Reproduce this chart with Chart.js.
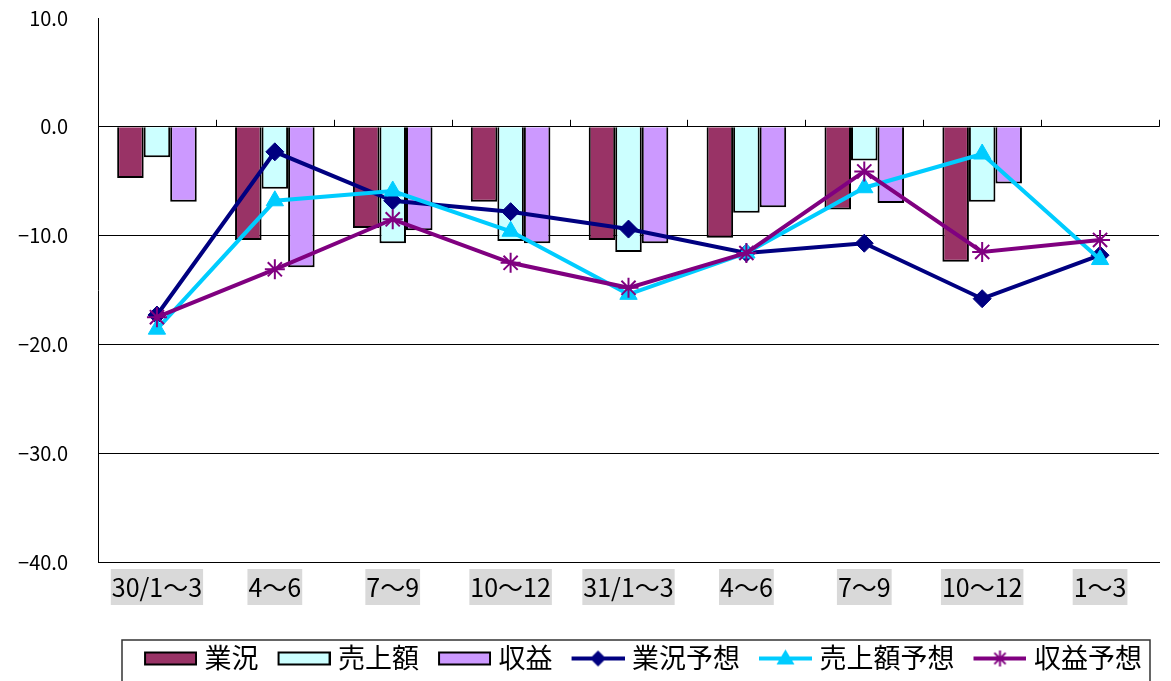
<!DOCTYPE html>
<html>
<head>
<meta charset="utf-8">
<script src="https://cdn.jsdelivr.net/npm/chart.js@4/dist/chart.umd.min.js"></script>
<style>
  html, body { margin: 0; padding: 0; background: #fff; }
  #wrap { width: 1171px; height: 681px; }
</style>
</head>
<body>
<div id="wrap"><canvas id="chart" width="1171" height="681"></canvas></div>
<script>
const categories = ['30/1～3', '4～6', '7～9', '10～12', '31/1～3', '4～6', '7～9', '10～12', '1～3'];

const gyokyo      = [-4.7, -10.4, -9.3, -6.9, -10.4, -10.2, -7.6, -12.4, null];
const uriage      = [-2.8, -5.7, -10.7, -10.5, -11.5, -7.9, -3.1, -6.9, null];
const shueki      = [-6.9, -12.9, -9.5, -10.7, -10.7, -7.4, -7.0, -5.2, null];
const gyokyoYoso  = [-17.3, -2.3, -6.8, -7.8, -9.4, -11.6, -10.7, -15.8, -11.8];
const uriageYoso  = [-18.6, -6.8, -5.9, -9.6, -15.4, -11.6, -5.6, -2.5, -12.2];
const shuekiYoso  = [-17.5, -13.1, -8.5, -12.5, -14.8, -11.6, -4.1, -11.5, -10.4];

const yTicks = [10, 0, -10, -20, -30, -40];

const FONT = '"Noto Sans CJK JP", "Noto Sans", sans-serif';
const BOX_W = 56;
const LEGEND_SHIFT = 10;

// legend swatches drawn as small images; the swatch sits at the right end
function swatch(kind, color, style) {
  const c = document.createElement('canvas');
  c.width = BOX_W + 12; c.height = 22;
  const g = c.getContext('2d');
  const r = c.width;          // right edge of the swatch
  const l = r - 53;           // left edge
  const m = (l + r) / 2;
  if (kind === 'bar') {
    g.fillStyle = '#000';
    g.fillRect(l, 5, 53, 14);
    g.fillStyle = color;
    g.fillRect(l + 2, 7, 49, 10);
  } else {
    g.strokeStyle = color;
    g.lineWidth = 4;
    g.beginPath(); g.moveTo(l, 12); g.lineTo(r, 12); g.stroke();
    g.fillStyle = color;
    g.beginPath();
    if (style === 'diamond') {
      g.moveTo(m, 4); g.lineTo(m + 8, 12); g.lineTo(m, 20); g.lineTo(m - 8, 12);
      g.closePath(); g.fill();
    } else if (style === 'triangle') {
      g.moveTo(m, 3); g.lineTo(m + 9, 18); g.lineTo(m - 9, 18);
      g.closePath(); g.fill();
    } else {
      g.lineWidth = 2;
      for (let a = 0; a < 4; a++) {
        const t = a * Math.PI / 4;
        g.moveTo(m - 8 * Math.cos(t), 12 - 8 * Math.sin(t));
        g.lineTo(m + 8 * Math.cos(t), 12 + 8 * Math.sin(t));
      }
      g.stroke();
    }
  }
  return c;
}

// nudge the legend a little right and frame it
const legendBorder = {
  id: 'legendBorder',
  afterLayout(chart) {
    const lg = chart.legend;
    lg.left += LEGEND_SHIFT;
    lg.right += LEGEND_SHIFT;
    (lg.legendHitBoxes || []).forEach(b => { b.left += LEGEND_SHIFT; });
  },
  afterDraw(chart) {
    const boxes = chart.legend.legendHitBoxes;
    if (!boxes || !boxes.length) return;
    const left = Math.min(...boxes.map(b => b.left)) - 13;
    const right = Math.max(...boxes.map(b => b.left + b.width)) + 8;
    const top = chart.legend.top + 6;
    const ctx = chart.ctx;
    ctx.save();
    ctx.strokeStyle = '#333';
    ctx.lineWidth = 1.5;
    ctx.strokeRect(left, top, right - left, chart.height - top + 5);
    ctx.restore();
  }
};

// small category tick marks on the zero line
const zeroTicks = {
  id: 'zeroTicks',
  afterDatasetsDraw(chart) {
    const x = chart.scales.x, y = chart.scales.y;
    const y0 = y.getPixelForValue(0);
    const w = (x.right - x.left) / categories.length;
    const ctx = chart.ctx;
    ctx.save();
    ctx.strokeStyle = '#000';
    ctx.lineWidth = 1;
    ctx.beginPath();
    for (let i = 1; i <= categories.length; i++) {
      const px = Math.round(x.left + i * w) + 0.5;
      ctx.moveTo(px, y0 - 7);
      ctx.lineTo(px, y0);
    }
    ctx.stroke();
    ctx.restore();
  }
};

function noPad(scale) {
  scale.paddingLeft = 0;
  scale.paddingRight = 0;
  scale.paddingTop = 0;
  scale.paddingBottom = 0;
}

const ctx = document.getElementById('chart').getContext('2d');

new Chart(ctx, {
  data: {
    labels: categories,
    datasets: [
      { type: 'bar', label: '業況', data: gyokyo, backgroundColor: '#993366', borderColor: '#000', borderWidth: 2, order: 3,
        swatchImg: swatch('bar', '#993366') },
      { type: 'bar', label: '売上額', data: uriage, backgroundColor: '#CCFFFF', borderColor: '#000', borderWidth: 2, order: 3,
        swatchImg: swatch('bar', '#CCFFFF') },
      { type: 'bar', label: '収益', data: shueki, backgroundColor: '#CC99FF', borderColor: '#000', borderWidth: 2, order: 3,
        swatchImg: swatch('bar', '#CC99FF') },
      { type: 'line', label: '業況予想', data: gyokyoYoso, borderColor: '#000080', backgroundColor: '#000080', borderWidth: 4,
        pointStyle: 'rectRot', pointRadius: 9, pointBorderWidth: 1, tension: 0, order: 2,
        swatchImg: swatch('line', '#000080', 'diamond') },
      { type: 'line', label: '売上額予想', data: uriageYoso, borderColor: '#00CCFF', backgroundColor: '#00CCFF', borderWidth: 4,
        pointStyle: 'triangle', pointRadius: 10, pointBorderWidth: 1, tension: 0, order: 1,
        swatchImg: swatch('line', '#00CCFF', 'triangle') },
      { type: 'line', label: '収益予想', data: shuekiYoso, borderColor: '#800080', backgroundColor: '#800080', borderWidth: 4,
        pointStyle: 'star', pointRadius: 10, pointBorderWidth: 2, tension: 0, order: 0,
        swatchImg: swatch('line', '#800080', 'star') }
    ]
  },
  options: {
    responsive: false,
    animation: false,
    layout: { padding: { top: 18, right: 5, left: 0, bottom: 0 } },
    datasets: { bar: { categoryPercentage: 0.675, barPercentage: 1.0 } },
    plugins: {
      tooltip: { enabled: false },
      legend: {
        position: 'bottom',
        fullSize: false,
        labels: {
          font: { family: FONT, size: 27 },
          color: '#000',
          padding: 10,
          usePointStyle: true,
          pointStyleWidth: BOX_W,
          sort: (a, b) => a.datasetIndex - b.datasetIndex,
          generateLabels(chart) {
            return chart.data.datasets.map((ds, i) => ({
              text: ds.label,
              pointStyle: ds.swatchImg,
              fillStyle: 'transparent',
              strokeStyle: 'transparent',
              lineWidth: 0,
              fontColor: '#000',
              hidden: false,
              datasetIndex: i
            }));
          }
        }
      }
    },
    scales: {
      x: {
        afterFit(scale) { scale.height = 72; noPad(scale); },
        grid: { display: false, drawTicks: false },
        border: { display: true, color: '#000', width: 1 },
        ticks: {
          font: { family: FONT, size: 25 },
          color: '#000',
          padding: 10,
          maxRotation: 0,
          autoSkip: false,
          showLabelBackdrop: true,
          backdropColor: '#d9d9d9',
          backdropPadding: { x: 1, y: 3 }
        }
      },
      y: {
        min: -40,
        max: 10,
        afterFit(scale) { scale.width = 98; noPad(scale); },
        afterBuildTicks(scale) { scale.ticks = yTicks.map(v => ({ value: v })); },
        grid: {
          drawTicks: false,
          color: c => (c.tick && c.tick.value === 10 ? 'rgba(0,0,0,0)' : '#000'),
          lineWidth: 1
        },
        border: { display: true, color: '#000', width: 1 },
        ticks: {
          font: { family: FONT, size: 20 },
          color: '#000',
          padding: 30,
          callback: v => v.toFixed(1).replace('-', '−')
        }
      }
    }
  },
  plugins: [legendBorder, zeroTicks]
});
</script>
</body>
</html>
